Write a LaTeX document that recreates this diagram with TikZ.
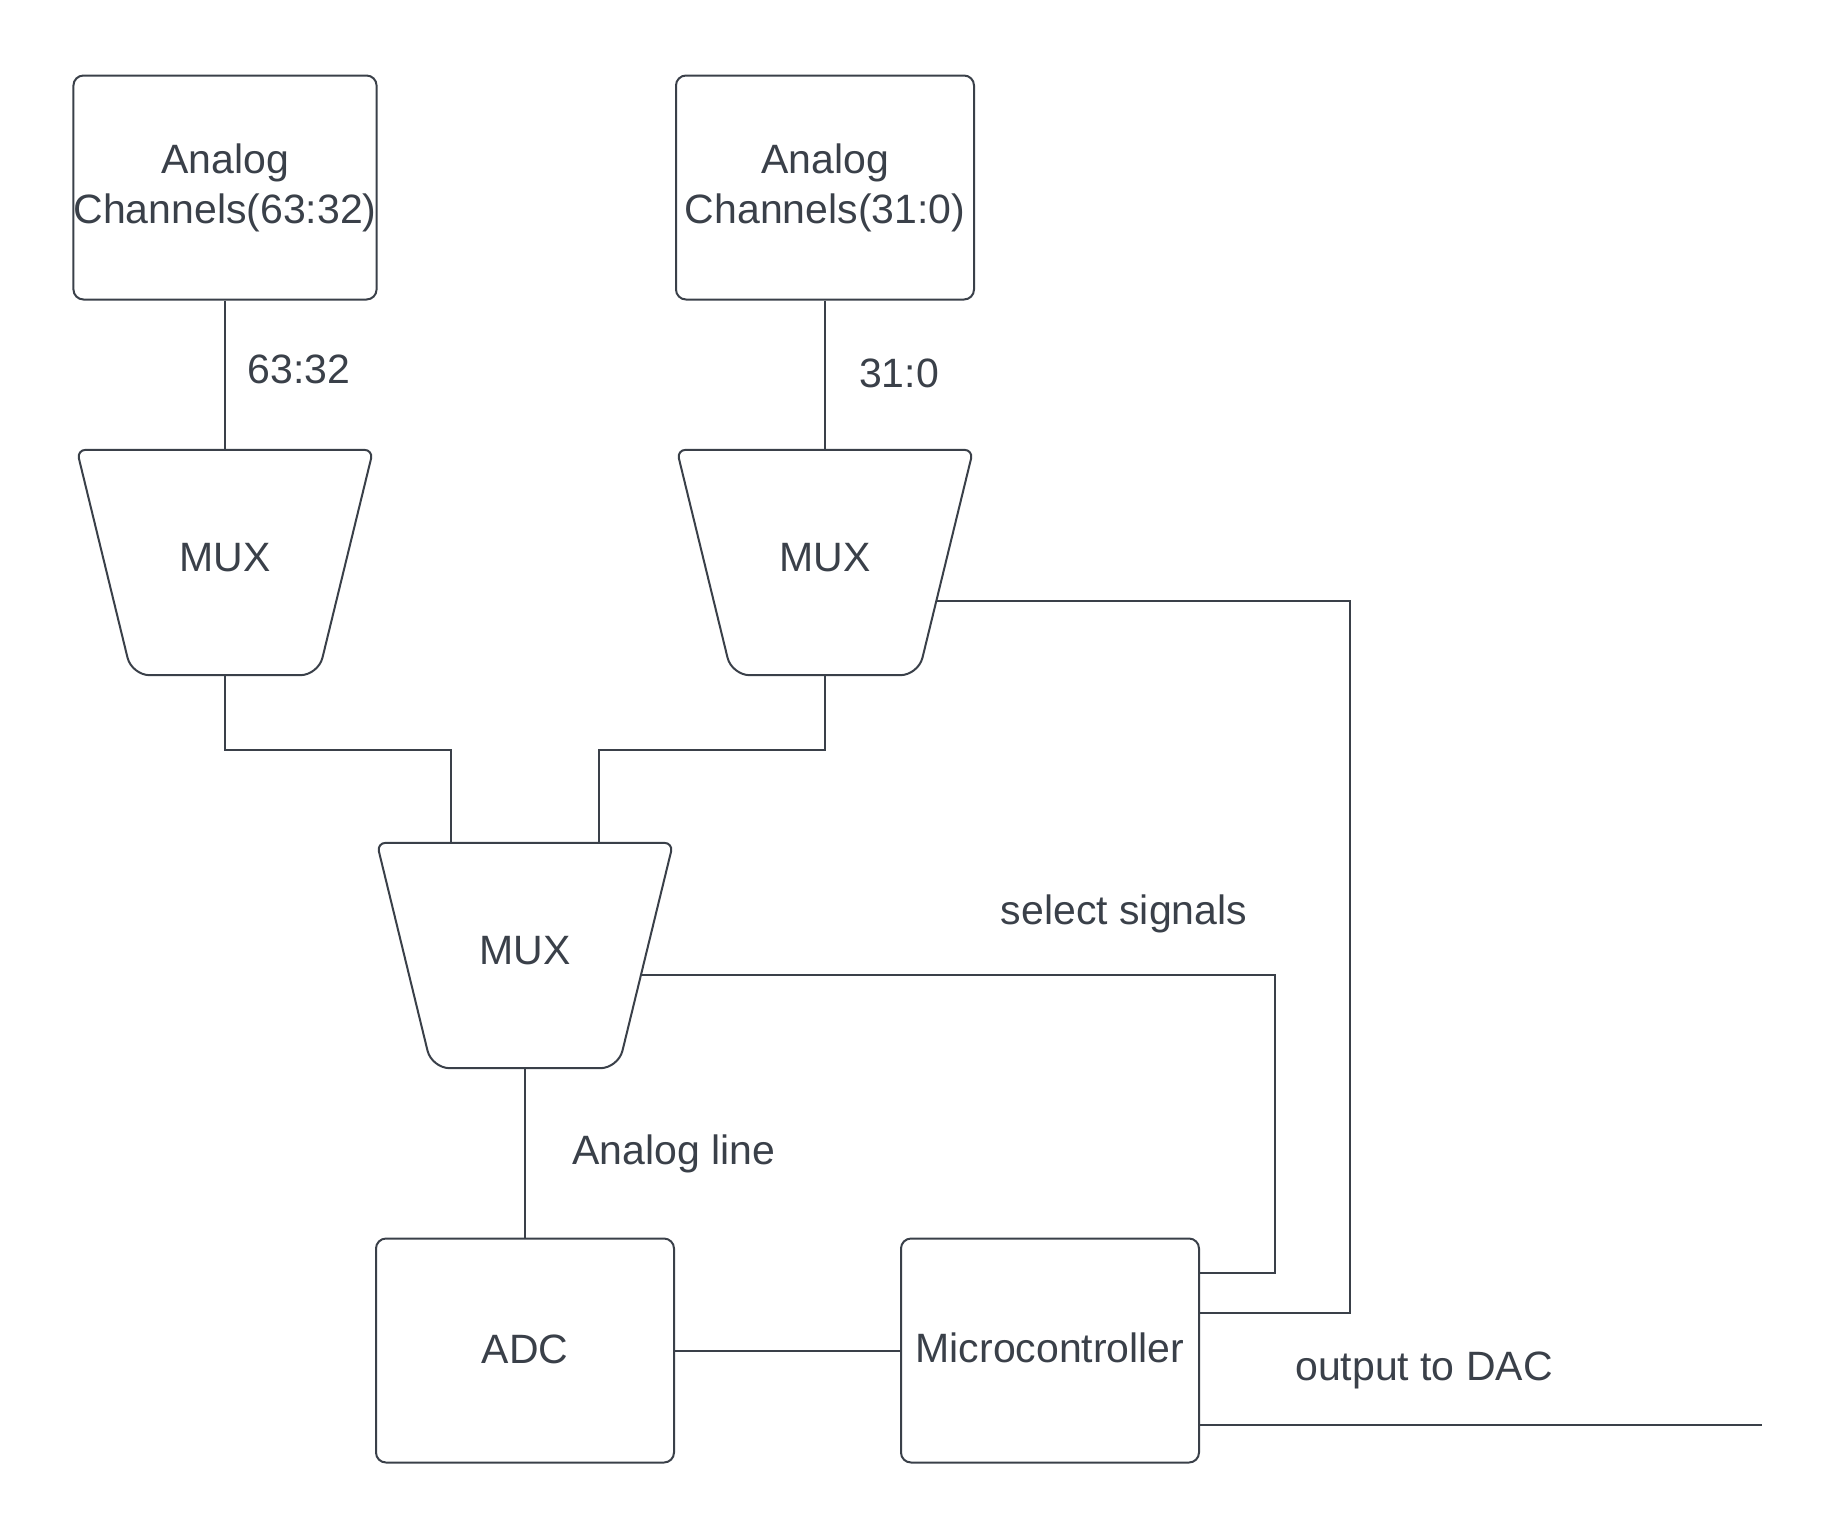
\documentclass[tikz,border=0pt]{standalone}
\usepackage{fontspec}
\setmainfont{Liberation Sans}
\usetikzlibrary{calc}
\definecolor{inkgray}{RGB}{58,64,73}
\tikzset{
    my-channel-box/.style={
        draw=inkgray, line width=2pt, rounded corners=10pt, minimum width=298pt, minimum height=224pt,
        inner sep=0pt, align=center, text=inkgray
    },
    my-mux/.style={
        minimum width=296pt, minimum height=225pt, inner sep=0pt, text=inkgray
    },
    my-mux-border/.style={
        draw=inkgray, line width=2pt, line join=round
    },
    my-wire/.style={
        draw=inkgray, line width=2pt
    },
    my-label/.style={
        text=inkgray, inner sep=0pt
    },
}
% MUX OUTLINE: WIDE TOP, NARROW BOTTOM, CORNER POINTS NAMED <NODE>BR AND <NODE>BL
\newcommand{\drawmux}[1]{%
    \coordinate (#1BR) at ($(#1.south east) + (-55, 0)$);
    \coordinate (#1BL) at ($(#1.south west) + (55, 0)$);
    \draw[my-mux-border] (#1.north) [rounded corners=9pt] -- (#1.north east)
        [rounded corners=18pt] -- (#1BR) -- (#1BL)
        [rounded corners=9pt] -- (#1.north west) -- cycle;
}

\begin{document}
\begin{tikzpicture}[x=1pt, y=-1pt, font=\fontsize{41}{50}\selectfont]

        \useasboundingbox (0, 0) rectangle (1838, 1539);

        % ANALOG CHANNEL BLOCKS ------------------------------------------------------------------------
        \node[my-channel-box] (CHA) at (225, 187.5)           {Analog\\Channels(63:32)};
        \node[my-channel-box] (CHB) at ($(CHA) + (600, 0)$)   {Analog\\Channels(31:0)};

        % FIRST STAGE MUXES
        \node[my-mux] (MUXA) at ($(CHA) + (0, 375)$) {\raisebox{11pt}{MUX}};
        \node[my-mux] (MUXB) at ($(CHB) + (0, 375)$) {\raisebox{11pt}{MUX}};
        \drawmux{MUXA}
        \drawmux{MUXB}

        % SECOND STAGE MUX AND INPUT POINTS
        \node[my-mux]  (MUXC)    at ($(MUXA) + (300, 393)$)     {\raisebox{11pt}{MUX}};
        \drawmux{MUXC}
        \coordinate[]  (MUXCIN1) at ($(MUXC.north) + (-74, 0)$) {};
        \coordinate[]  (MUXCIN2) at ($(MUXC.north) + (74, 0)$)  {};

        % ADC AND MICROCONTROLLER
        \node[my-channel-box] (ADC)   at ($(MUXC) + (0, 395)$) {\raisebox{3pt}{ADC}};
        \node[my-channel-box] (MICRO) at ($(ADC) + (525, 0)$)  {\raisebox{6pt}{Microcontroller}};

        % CHANNEL WIRES
        \draw[my-wire] (CHA) -- (MUXA);
        \draw[my-wire] (CHB) -- (MUXB);
        \node[my-label] (L6332) at ($(CHA.south) + (74, 69)$) {63:32};
        \node[my-label] (L310)  at ($(CHB.south) + (74, 73)$) {31:0};

        % MUX TO MUX WIRES
        \draw[my-wire] (MUXA.south) -- ++(0, 75) -| (MUXCIN1);
        \draw[my-wire] (MUXB.south) -- ++(0, 75) -| (MUXCIN2);

        % ANALOG LINE AND DATA WIRE
        \draw[my-wire] (MUXC) -- (ADC);
        \node[my-label] (LANALOG) at ($(ADC.north) + (149, -84)$) {Analog line};
        \draw[my-wire] (ADC) -- (MICRO);

        % SELECT SIGNALS - SIDE POINTS AND CORNER POINTS
        \coordinate[] (MUXBSEL) at ($(MUXB.north east)!0.67!(MUXBBR)$)  {};
        \coordinate[] (MUXCSEL) at ($(MUXC.north east)!0.587!(MUXCBR)$) {};
        \coordinate[] (SELA) at ($(MICRO.east) + (75, -78)$)  {};
        \coordinate[] (SELB) at ($(MICRO.east) + (150, -38)$) {};
        \draw[my-wire] (MUXCSEL) -| (SELA) -- (SELA -| MICRO.east);
        \draw[my-wire] (MUXBSEL) -| (SELB) -- (SELB -| MICRO.east);
        \node[my-label] (LSELECT) at ($(SELA) + (-151, -359)$) {select signals};

        % OUTPUT TO DAC
        \coordinate[] (DACOUT) at ($(MICRO.east) + (562, 74)$) {};
        \draw[my-wire] (DACOUT -| MICRO.east) -- (DACOUT);
        \node[my-label] (LDAC) at ($(MICRO.east) + (224, 20)$) {output to DAC};

    \end{tikzpicture}
\end{document}
